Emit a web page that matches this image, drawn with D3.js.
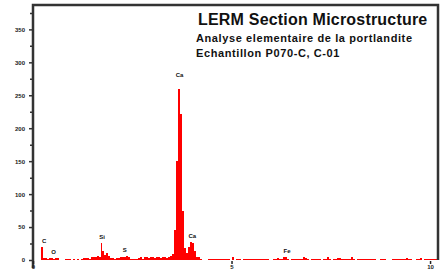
<!DOCTYPE html>
<html>
<head>
<meta charset="utf-8">
<script src="https://cdn.jsdelivr.net/npm/d3@7"></script>
<style>
  body { margin: 0; background: #fff; }
  svg { display: block; font-family: "Liberation Sans", Arial, sans-serif; }
</style>
</head>
<body>
<svg id="spectrum"></svg>
<script>
// EDS spectrum, 0.05 keV channels starting at 0 keV
const binWidth = 0.05;
const counts = [
  0,0,0,0,20,3,3,2,3,3,
  2,3,3,0,0,0,2,2,2,0,
  2,0,2,0,2,3,3,3,2,4,
  5,5,6,5,26,14,8,10,6,3,
  3,2,3,3,4,5,5,6,4,2,
  1,2,2,3,4,2,4,5,3,4,
  4,3,5,4,3,4,5,3,4,6,
  9,45,150,260,222,75,18,10,20,27,
  26,14,5,4,1,0,0,0,2,2,
  2,2,2,2,2,2,2,2,2,0,
  4,0,2,2,2,0,2,2,2,2,
  2,2,2,2,2,2,2,2,2,0,
  0,2,2,3,2,2,4,4,2,0,
  2,2,2,2,2,2,4,3,2,0,
  2,2,2,2,2,0,2,2,4,2,
  0,2,2,3,3,2,2,2,2,2,
  4,2,0,2,2,2,2,2,2,2,
  2,2,2,0,0,2,2,2,0,0,
  0,2,2,2,2,2,2,2,3,2,
  2,0,0,2,2,3,0,2,2,2,
  2,2,2,2
];

const peakNames = ["C", "O", "Si", "S", "Ca", "Ca", "Fe"];
const peakEnergies = [0.28, 0.52, 1.74, 2.31, 3.69, 4.01, 6.40];

const yTicks = [0, 50, 100, 150, 200, 250, 300, 350];
const yMinorTicks = [25, 75, 125, 175, 225, 275, 325, 375];
const xTicks = [0, 5, 10];

const titleLines = [
  "LERM Section Microstructure",
  "Analyse elementaire de la portlandite",
  "Echantillon P070-C, C-01"
];

var w = 447;
var h = 273;

var svg = d3.select("#spectrum")
    .attr("width", w)
    .attr("height", h);

var xScale = d3.scaleLinear()
    .domain([0, 10.2])
    .range([33, 438]);

var yScale = d3.scaleLinear()
    .domain([0, 387])
    .range([260, 5]);

// spectrum as a stepped area
let points = counts.map((c, i) => ({ e: i * binWidth, c: c }));
points.push({ e: counts.length * binWidth, c: 0 });

let area = d3.area()
    .curve(d3.curveStepAfter)
    .x(d => xScale(d.e))
    .y0(yScale(0))
    .y1(d => yScale(d.c));

svg.append("path")
    .datum(points)
    .attr("d", area)
    .attr("fill", "#ff0000")
    .attr("shape-rendering", "crispEdges");

// frame (top, left, right)
let frame = svg.append("g")
    .attr("stroke", "#333")
    .attr("stroke-width", 2.5)
    .attr("fill", "none");
frame.append("path")
    .attr("d", `M${xScale(0)},${yScale(0) + 8} V${yScale(387)} H${xScale(10.2)} V${yScale(0)}`);

// y axis ticks + labels
let yAxis = g => g
    .attr("transform", `translate(${xScale(0) - 1},0)`)
    .call(d3.axisLeft(yScale).tickValues(yTicks).tickSize(3).tickPadding(4))
    .call(g => g.select(".domain").remove())
    .call(g => g.selectAll(".tick line").attr("stroke", "#333").attr("stroke-width", 1.5))
    .call(g => g.selectAll(".tick text").attr("font-size", 6).attr("font-weight", "bold").attr("fill", "#222"));
svg.append("g").call(yAxis);

svg.append("g")
    .attr("transform", `translate(${xScale(0) - 1},0)`)
    .call(d3.axisLeft(yScale).tickValues(yMinorTicks).tickSize(2).tickFormat(""))
    .call(g => g.select(".domain").remove())
    .call(g => g.selectAll(".tick line").attr("stroke", "#333").attr("stroke-width", 1.5));

// x axis ticks + labels
let xAxis = g => g
    .attr("transform", `translate(0,${yScale(0) + 1})`)
    .call(d3.axisBottom(xScale).tickValues(xTicks).tickSize(3).tickPadding(1))
    .call(g => g.select(".domain").remove())
    .call(g => g.selectAll(".tick line").attr("stroke", "#222").attr("stroke-width", 1.5))
    .call(g => g.selectAll(".tick text").attr("font-size", 6).attr("font-weight", "bold").attr("fill", "#222"));
svg.append("g").call(xAxis);

// peak labels above the local maximum
svg.append("g")
    .selectAll("text")
    .data(peakNames)
    .join("text")
    .attr("x", (d, i) => xScale(peakEnergies[i]))
    .attr("y", (d, i) => {
        let k = Math.floor(peakEnergies[i] / binWidth);
        let top = d3.max(counts.slice(Math.max(0, k - 1), k + 2));
        return yScale(top) - (top > 100 ? 12 : 4);
    })
    .attr("text-anchor", "middle")
    .attr("font-size", 6)
    .attr("font-weight", "bold")
    .attr("fill", "#111")
    .text(d => d);

// title block
svg.append("g")
    .selectAll("text")
    .data(titleLines)
    .join("text")
    .attr("x", (d, i) => i === 0 ? 198 : 196)
    .attr("y", (d, i) => [25, 42, 57][i])
    .attr("font-size", (d, i) => i === 0 ? 16 : 11)
    .attr("letter-spacing", (d, i) => i === 0 ? 0.2 : 0.6)
    .attr("font-weight", "bold")
    .attr("fill", "#111")
    .text(d => d);
</script>
</body>
</html>
